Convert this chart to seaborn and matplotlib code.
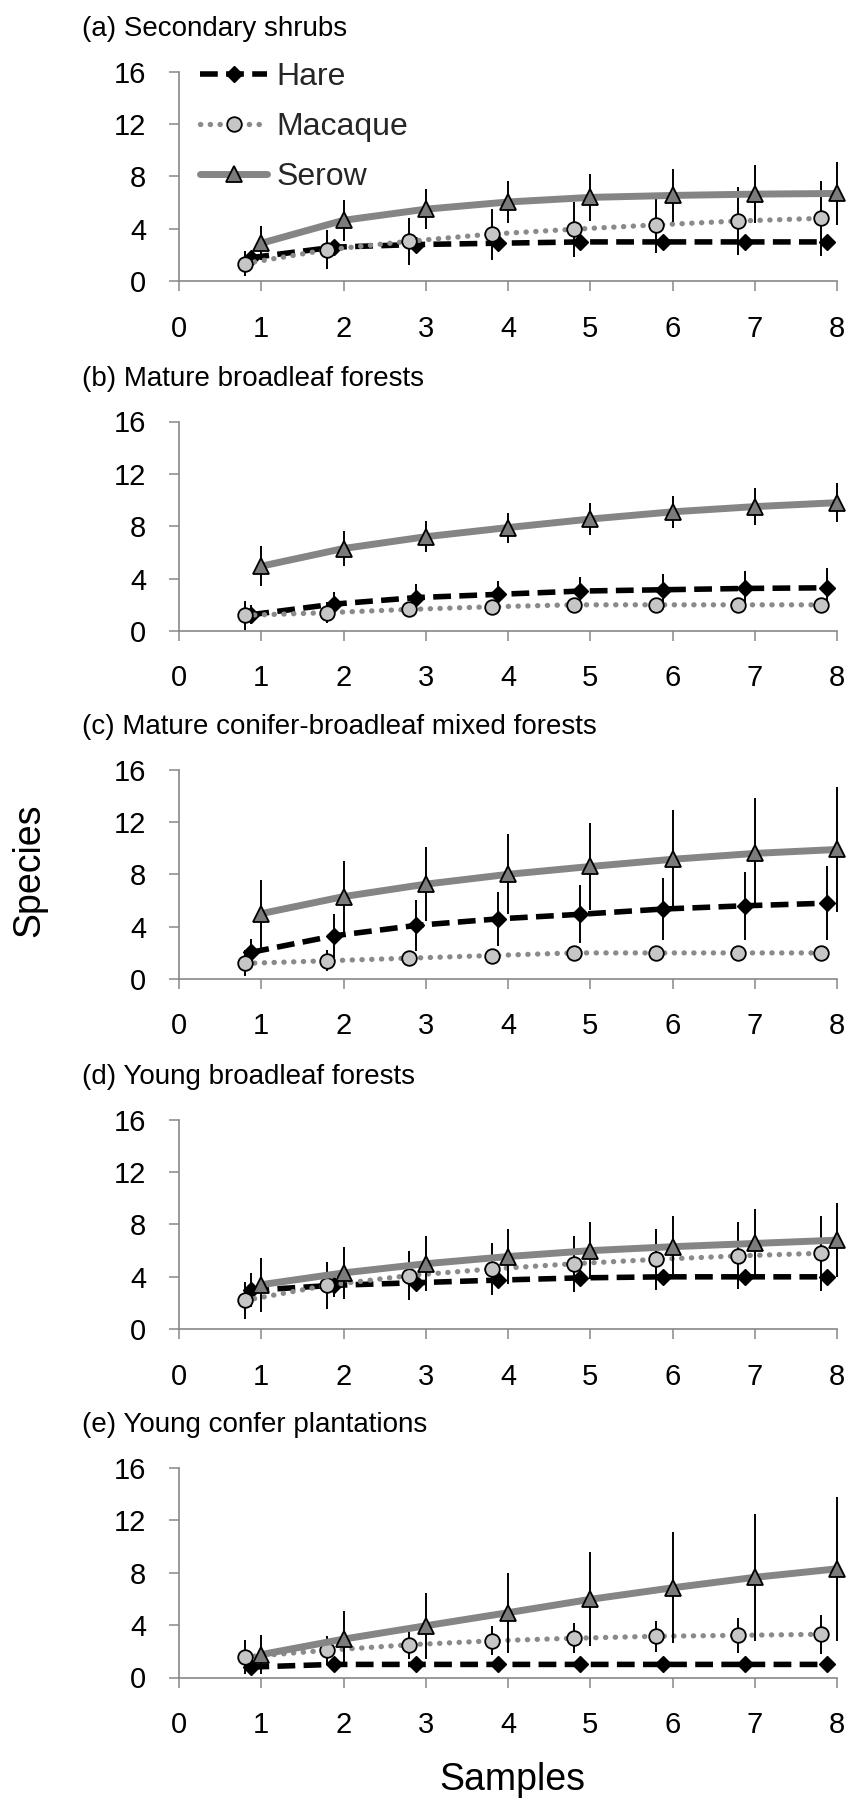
import numpy as np
import pandas as pd
import matplotlib
matplotlib.use("Agg")
import matplotlib.pyplot as plt
import seaborn as sns

# ---------------- data ----------------
samples = [1, 2, 3, 4, 5, 6, 7, 8]
x_ticks = [0, 1, 2, 3, 4, 5, 6, 7, 8]
y_ticks = [0, 4, 8, 12, 16]
species_names = ["Hare", "Macaque", "Serow"]
panel_titles = [
    "(a) Secondary shrubs",
    "(b) Mature broadleaf forests",
    "(c) Mature conifer-broadleaf mixed forests",
    "(d) Young broadleaf forests",
    "(e) Young confer plantations",
]

hare_a = [1.8, 2.6, 2.8, 2.9, 3.0, 3.0, 3.0, 3.0]
hare_a_err = [0.5, 0.4, 0.3, 0.2, 0.1, 0.1, 0.05, 0.05]
macaque_a = [1.35, 2.4, 3.05, 3.6, 3.97, 4.3, 4.6, 4.8]
macaque_a_err = [0.95, 1.5, 1.8, 1.95, 2.1, 2.15, 2.6, 2.85]
serow_a = [2.9, 4.65, 5.5, 6.05, 6.4, 6.55, 6.65, 6.7]
serow_a_err = [1.3, 1.55, 1.55, 1.6, 1.8, 2.0, 2.2, 2.4]

hare_b = [1.25, 2.05, 2.55, 2.8, 3.05, 3.15, 3.25, 3.3]
hare_b_err = [0.7, 0.95, 1.05, 1.05, 1.05, 1.2, 1.35, 1.5]
macaque_b = [1.2, 1.4, 1.65, 1.85, 2.0, 2.0, 2.0, 2.0]
macaque_b_err = [1.1, 0.8, 0.3, 0.2, 0.2, 0.1, 0.1, 0.1]
serow_b = [4.95, 6.3, 7.2, 7.9, 8.55, 9.1, 9.5, 9.8]
serow_b_err = [1.55, 1.35, 1.2, 1.15, 1.2, 1.2, 1.4, 1.5]

hare_c = [2.05, 3.3, 4.1, 4.6, 4.95, 5.35, 5.6, 5.8]
hare_c_err = [1.05, 1.7, 1.95, 2.05, 2.2, 2.35, 2.6, 2.85]
macaque_c = [1.2, 1.4, 1.6, 1.8, 2.0, 2.0, 2.0, 2.0]
macaque_c_err = [1.0, 0.8, 0.3, 0.2, 0.1, 0.1, 0.1, 0.1]
serow_c = [5.0, 6.3, 7.25, 8.0, 8.6, 9.15, 9.6, 9.9]
serow_c_err = [2.6, 2.75, 2.85, 3.05, 3.35, 3.8, 4.2, 4.8]

hare_d = [2.97, 3.35, 3.55, 3.75, 3.92, 4.0, 4.0, 4.0]
hare_d_err = [1.3, 0.9, 0.6, 0.4, 0.2, 0.1, 0.05, 0.05]
macaque_d = [2.2, 3.35, 4.1, 4.6, 5.0, 5.33, 5.6, 5.8]
macaque_d_err = [1.4, 1.8, 1.9, 2.0, 2.15, 2.35, 2.55, 2.85]
serow_d = [3.4, 4.3, 5.0, 5.55, 6.0, 6.3, 6.55, 6.8]
serow_d_err = [2.05, 2.0, 2.1, 2.1, 2.2, 2.35, 2.65, 2.85]

hare_e = [0.8, 1.0, 1.0, 1.0, 1.0, 1.0, 1.0, 1.0]
hare_e_err = [0.2, 0.05, 0.05, 0.05, 0.05, 0.05, 0.05, 0.05]
macaque_e = [1.57, 2.08, 2.5, 2.8, 3.0, 3.15, 3.22, 3.3]
macaque_e_err = [1.3, 1.1, 1.05, 1.1, 1.15, 1.2, 1.35, 1.5]
serow_e = [1.75, 2.93, 3.95, 4.95, 5.97, 6.85, 7.65, 8.3]
serow_e_err = [1.5, 2.15, 2.5, 3.05, 3.6, 4.25, 4.85, 5.5]

panels = [
    (hare_a, hare_a_err, macaque_a, macaque_a_err, serow_a, serow_a_err),
    (hare_b, hare_b_err, macaque_b, macaque_b_err, serow_b, serow_b_err),
    (hare_c, hare_c_err, macaque_c, macaque_c_err, serow_c, serow_c_err),
    (hare_d, hare_d_err, macaque_d, macaque_d_err, serow_d, serow_d_err),
    (hare_e, hare_e_err, macaque_e, macaque_e_err, serow_e, serow_e_err),
]

# ---------------- styling ----------------
sns.set_theme(style="ticks")
plt.rcParams["font.family"] = ["Liberation Sans", "DejaVu Sans"]

W, H = 850, 1798
fig = plt.figure(figsize=(W / 100, H / 100), dpi=100)

axes_tops = [71.7, 421.5, 769.6, 1119.7, 1468.0]
axes_h = 209.5
ax_left, ax_right = 179.0, 837.0

spine_col = "#878787"
styles = {
    "Hare": dict(offset=-0.12, color="black", linewidth=4.0,
                 linestyle=(0, (3.2, 1.5)), marker="D", markersize=8,
                 markerfacecolor="black", markeredgecolor="black",
                 markeredgewidth=1.0, dash_capstyle="butt", zorder=4),
    "Macaque": dict(offset=-0.2, color="#8a8a8a", linewidth=3.8,
                    linestyle=(0, (0.05, 1.8)), marker="o", markersize=10.5,
                    markerfacecolor="#c6c6c6", markeredgecolor="black",
                    markeredgewidth=1.3, dash_capstyle="round", zorder=5),
    "Serow": dict(offset=0.0, color="#858585", linewidth=5.0,
                  linestyle="-", marker="^", markersize=11.5,
                  markerfacecolor="#7b7b7b", markeredgecolor="black",
                  markeredgewidth=1.3, dash_capstyle="butt", zorder=6),
}

for i, (title, vals) in enumerate(zip(panel_titles, panels)):
    top = axes_tops[i]
    ax = fig.add_axes([ax_left / W, (H - top - axes_h) / H,
                       (ax_right - ax_left) / W, axes_h / H])
    series = {
        "Hare": (vals[0], vals[1]),
        "Macaque": (vals[2], vals[3]),
        "Serow": (vals[4], vals[5]),
    }
    for name in species_names:
        y, e = series[name]
        st = dict(styles[name])
        off = st.pop("offset")
        z = st.pop("zorder")
        df = pd.DataFrame({"x": np.array(samples, dtype=float) + off,
                           "y": y, "e": e})
        ax.vlines(df["x"], df["y"] - df["e"], df["y"] + df["e"],
                  color="black", linewidth=1.4, zorder=z - 0.5, clip_on=False)
        sns.lineplot(data=df, x="x", y="y", ax=ax, errorbar=None, sort=False,
                     label=name if i == 0 else None, clip_on=False,
                     zorder=z, **st)

    ax.set_xlim(0, 8)
    ax.set_ylim(0, 16)
    ax.set_xticks(x_ticks)
    ax.set_yticks(y_ticks)
    ax.set_xlabel("")
    ax.set_ylabel("")
    sns.despine(ax=ax)
    for s in ("left", "bottom"):
        ax.spines[s].set_color(spine_col)
        ax.spines[s].set_linewidth(1.2)
    ax.tick_params(axis="both", direction="out", length=7.5, width=1.1,
                   color=spine_col, labelsize=21, labelcolor="black")
    ax.tick_params(axis="y", pad=16.0)
    ax.tick_params(axis="x", pad=16.5)

    leg = ax.get_legend()
    if leg is not None:
        leg.remove()
    if i == 0:
        ax.legend(loc="upper left", bbox_to_anchor=(0.032, 1.045),
                  frameon=False, fontsize=23, handlelength=2.1,
                  handletextpad=0.3, labelspacing=0.62, borderpad=0,
                  borderaxespad=0, numpoints=1)

    fig.text(81.7 / W, (H - (top - 36)) / H, title, fontsize=20,
             ha="left", va="baseline", color="black")

fig.text(29 / W, (H - 870) / H, "Species", rotation=90, fontsize=27,
         ha="center", va="center", color="black")
fig.text(512 / W, (H - 1790) / H, "Samples", fontsize=27,
         ha="center", va="baseline", color="black")

fig.savefig("out.png", dpi=100)
